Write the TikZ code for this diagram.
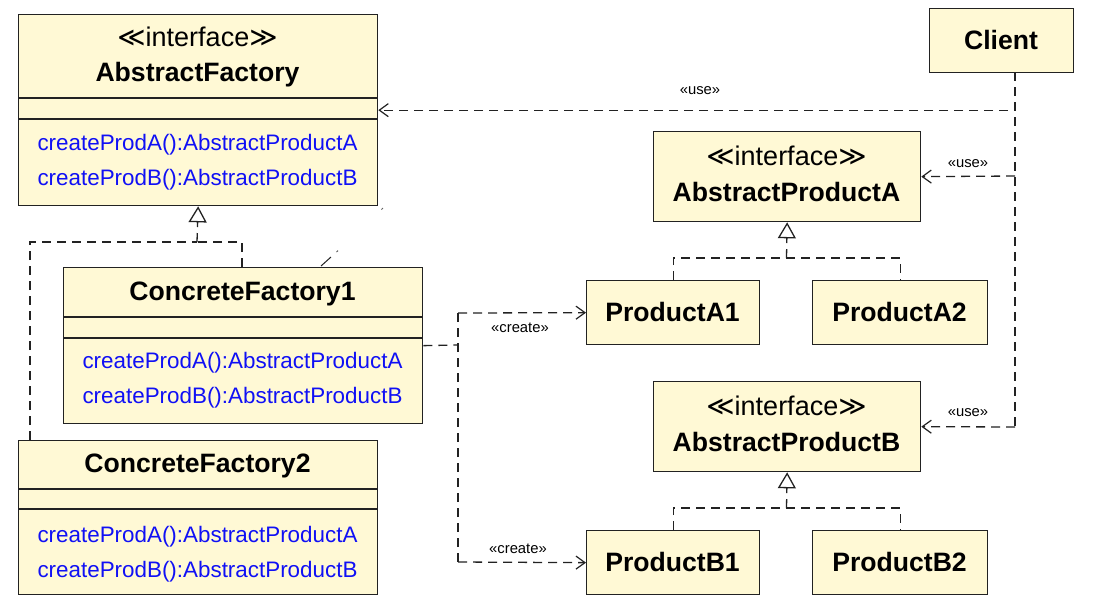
\documentclass[tikz,border=0pt]{standalone}
\usepackage{fontspec}
\setmainfont{Liberation Sans}
\newfontfamily\dejavu{DejaVu Sans}
\usetikzlibrary{arrows.meta}
\definecolor{boxfill}{HTML}{FFF9D5}
\definecolor{linec}{HTML}{222222}
\definecolor{methblue}{HTML}{1010F5}
\newcommand{\methfont}{\fontsize{22.4}{26}\selectfont}
\newcommand{\ttlfont}{\fontsize{26.6}{30}\selectfont\bfseries}
\newcommand{\intfont}{\fontsize{27}{30}\selectfont}
\newcommand{\lblfont}{\fontsize{14.8}{17}\selectfont}
\newcommand{\ifc}{{\dejavu ≪}interface{\dejavu ≫}}
\begin{document}
\begin{tikzpicture}[x=1pt,y=-1pt,
  cls/.style={draw=linec, fill=boxfill, line width=1.3pt, inner sep=0pt, anchor=north west},
  meth/.style={text=methblue, font=\methfont, anchor=base, inner sep=0pt},
  ttl/.style={font=\ttlfont, anchor=base, inner sep=0pt},
  intf/.style={font=\intfont, anchor=base, inner sep=0pt},
  lbl/.style={font=\lblfont, anchor=base, inner sep=0pt},
  sep/.style={draw=linec, line width=1.3pt},
  dashline/.style={draw=linec, line width=1.3pt, dash pattern=on 9pt off 6pt},
  dep/.style={dashline, -{Straight Barb[length=9pt,width=13pt,line width=1.2pt]}},
  real/.style={dashline, -{Triangle[open,length=16pt,width=18pt,line width=1.3pt]}}]
\useasboundingbox (0,0) rectangle (1105,603);
% ---- boxes
\node[cls, minimum width=359pt, minimum height=191pt] (af) at (18,14) {};
\node[cls, minimum width=144pt, minimum height=64pt] (client) at (929,8) {};
\node[cls, minimum width=267pt, minimum height=90pt] (apa) at (653,131) {};
\node[cls, minimum width=173pt, minimum height=64pt] (pa1) at (586,280) {};
\node[cls, minimum width=175pt, minimum height=64pt] (pa2) at (812,280) {};
\node[cls, minimum width=267pt, minimum height=90pt] (apb) at (653,381) {};
\node[cls, minimum width=173pt, minimum height=64pt] (pb1) at (586,530) {};
\node[cls, minimum width=175pt, minimum height=64pt] (pb2) at (812,530) {};
\node[cls, minimum width=359pt, minimum height=156pt] (cf1) at (63,267) {};
\node[cls, minimum width=359pt, minimum height=154pt] (cf2) at (18,440) {};
% ---- compartments
\draw[sep] (18,98) -- (377,98) (18,119) -- (377,119);
\draw[sep] (63,317) -- (422,317) (63,338) -- (422,338);
\draw[sep] (18,489) -- (377,489) (18,509) -- (377,509);
% ---- texts
\node[intf] (afi) at (197.5,46) {\ifc};
\node[ttl] (afn) at (197.5,81) {AbstractFactory};
\node[meth] (afa) at (197.5,150) {createProdA():AbstractProductA};
\node[meth] (afb) at (197.5,185) {createProdB():AbstractProductB};
\node[ttl] (cln) at (1001,49) {Client};
\node[intf] (apai) at (786.5,165) {\ifc};
\node[ttl] (apan) at (786.5,201) {AbstractProductA};
\node[intf] (apbi) at (786.5,415) {\ifc};
\node[ttl] (apbn) at (786.5,451) {AbstractProductB};
\node[ttl] (pa1n) at (672.5,321) {ProductA1};
\node[ttl] (pa2n) at (899.5,321) {ProductA2};
\node[ttl] (pb1n) at (672.5,571) {ProductB1};
\node[ttl] (pb2n) at (899.5,571) {ProductB2};
\node[ttl] (cf1n) at (242.5,300) {ConcreteFactory1};
\node[meth] (cf1a) at (242.5,368) {createProdA():AbstractProductA};
\node[meth] (cf1b) at (242.5,403) {createProdB():AbstractProductB};
\node[ttl] (cf2n) at (197.5,472) {ConcreteFactory2};
\node[meth] (cf2a) at (197.5,542) {createProdA():AbstractProductA};
\node[meth] (cf2b) at (197.5,577) {createProdB():AbstractProductB};
% ---- labels
\node[lbl] (u1) at (700,94) {«use»};
\node[lbl] (u2) at (968,167) {«use»};
\node[lbl] (u3) at (968,416) {«use»};
\node[lbl] (c1) at (520,332) {«create»};
\node[lbl] (c2) at (518,553) {«create»};
% ---- helper coordinates
\coordinate (clb) at (1015,72);
\coordinate (clj) at (1015,427);
\coordinate (cfr) at (458,345);
\coordinate (crt) at (458,313);
\coordinate (crb) at (458,562);
\coordinate (fj) at (197,242);
\coordinate (aj) at (786.5,258);
\coordinate (bj) at (786.5,508);
% ---- use dependencies
\draw[dep] (clb) |- (af.east);
\draw[dashline] (clb) -- (clj);
\draw[dep] (1015,176) -- (apa.east);
\draw[dep] (clj) -- (apb.east);
% ---- create dependencies
\draw[dashline] (cf1.east) -- (cfr);
\draw[dashline] (crb) -- (crt);
\draw[dep] (crt) -- (pa1.west);
\draw[dep] (crb) -- (pb1.west);
% ---- realizations
\draw[dashline] (cf1.north -| 242,0) |- (fj);
\draw[dashline] (cf2.north -| 30,0) |- (fj);
\draw[real] (fj) -- (af.south);
\draw[dashline] (pa1.north) |- (aj) -| (pa2.north);
\draw[real] (aj) -- (apa.south);
\draw[dashline] (pb1.north) |- (bj) -| (pb2.north);
\draw[real] (bj) -- (apb.south);
% ---- faint remnants
\draw[linec, line width=1pt] (321,266) -- (331,257);
\draw[linec!70, line width=1pt] (336.5,252) -- (338,250.6);
\draw[linec!70, line width=1pt] (381.5,209.5) -- (383,208);
\end{tikzpicture}
\end{document}
